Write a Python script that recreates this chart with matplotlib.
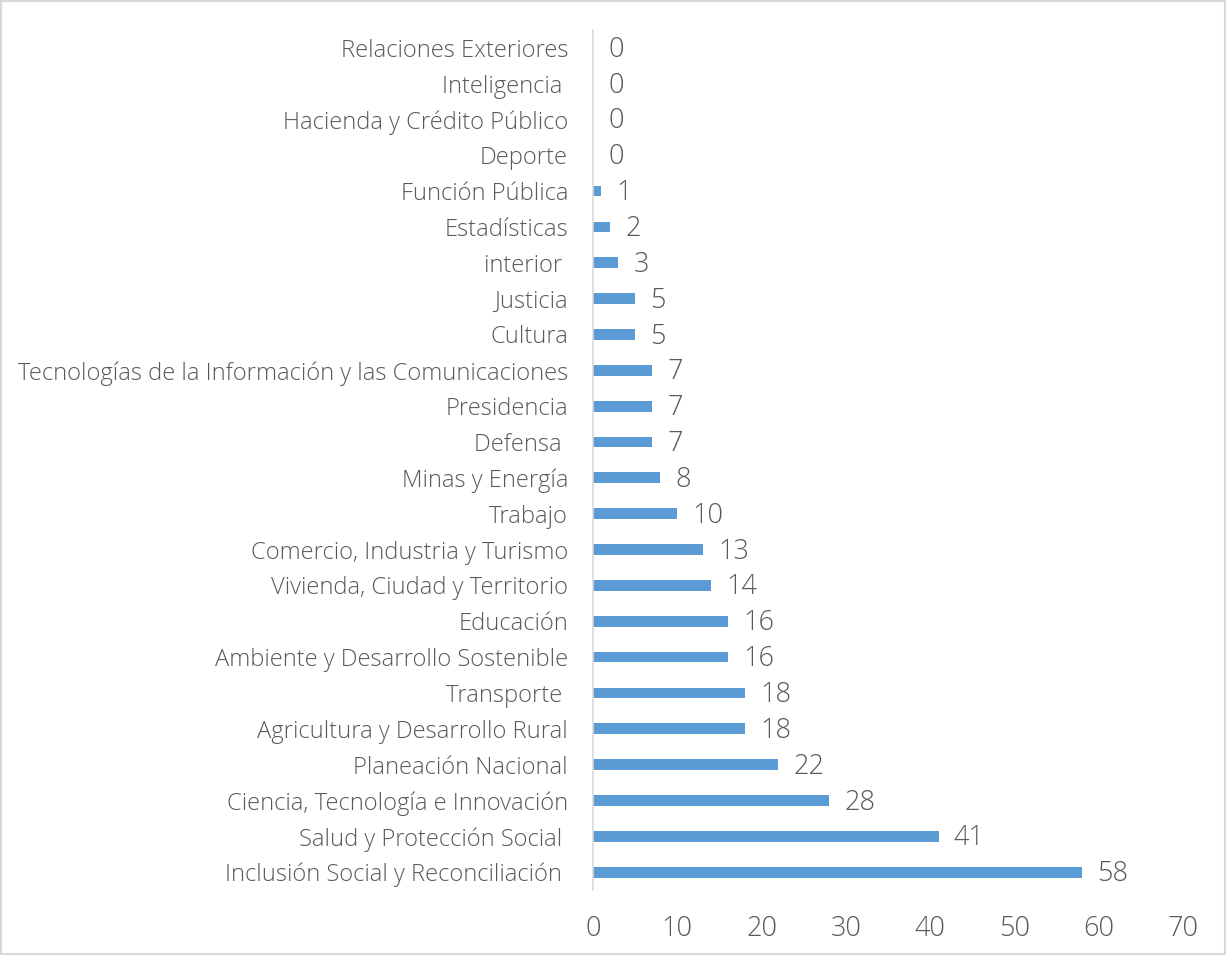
import matplotlib.pyplot as plt
from matplotlib.patches import Rectangle

# ministries, listed bottom to top
sectores = [
    "Inclusión Social y Reconciliación ",
    "Salud y Protección Social ",
    "Ciencia, Tecnología e Innovación",
    "Planeación Nacional",
    "Agricultura y Desarrollo Rural",
    "Transporte ",
    "Ambiente y Desarrollo Sostenible",
    "Educación",
    "Vivienda, Ciudad y Territorio",
    "Comercio, Industria y Turismo",
    "Trabajo",
    "Minas y Energía",
    "Defensa ",
    "Presidencia",
    "Tecnologías de la Información y las Comunicaciones",
    "Cultura",
    "Justicia",
    "interior ",
    "Estadísticas",
    "Función Pública",
    "Deporte",
    "Hacienda y Crédito Público",
    "Inteligencia ",
    "Relaciones Exteriores",
]
valores = [58, 41, 28, 22, 18, 18, 16, 16, 14, 13, 10, 8, 7, 7, 7, 5, 5, 3, 2, 1, 0, 0, 0, 0]
xticks = [0, 10, 20, 30, 40, 50, 60, 70]

gris = "#595959"
azul = "#5B9BD5"

plt.rcParams["font.family"] = ["Open Sans", "DejaVu Sans"]
plt.rcParams["font.weight"] = "light"

fig = plt.figure(figsize=(12.26, 9.55), dpi=100)
ax = fig.add_axes([0.4837, 0.068, 0.4813, 0.9008])

pos = range(len(sectores))
ax.barh(pos, valores, height=0.3, color=azul)

for y, v in zip(pos, valores):
    ax.annotate(str(v), (v, y), xytext=(11, -1.5), textcoords="offset points",
                va="center", ha="left", fontsize=19.5, color=gris)

ax.set_xlim(0, 70)
ax.set_ylim(-0.5, len(sectores) - 0.5)
ax.set_xticks(xticks)
ax.set_yticks(list(pos))
ax.set_yticklabels(sectores)
ax.tick_params(axis="y", length=0, pad=18, labelsize=17.1, labelcolor=gris)
ax.tick_params(axis="x", length=0, pad=18, labelsize=19.5, labelcolor=gris)

for s in ["top", "right", "bottom"]:
    ax.spines[s].set_visible(False)
ax.spines["left"].set_color("#d9d9d9")
ax.spines["left"].set_linewidth(1.2)

# thin frame around the whole chart
fig.patches.append(Rectangle((0.001, 0.001), 0.998, 0.998, transform=fig.transFigure,
                             fill=False, edgecolor="#d9d9d9", linewidth=1.5))

fig.savefig("out.png", dpi=100)
